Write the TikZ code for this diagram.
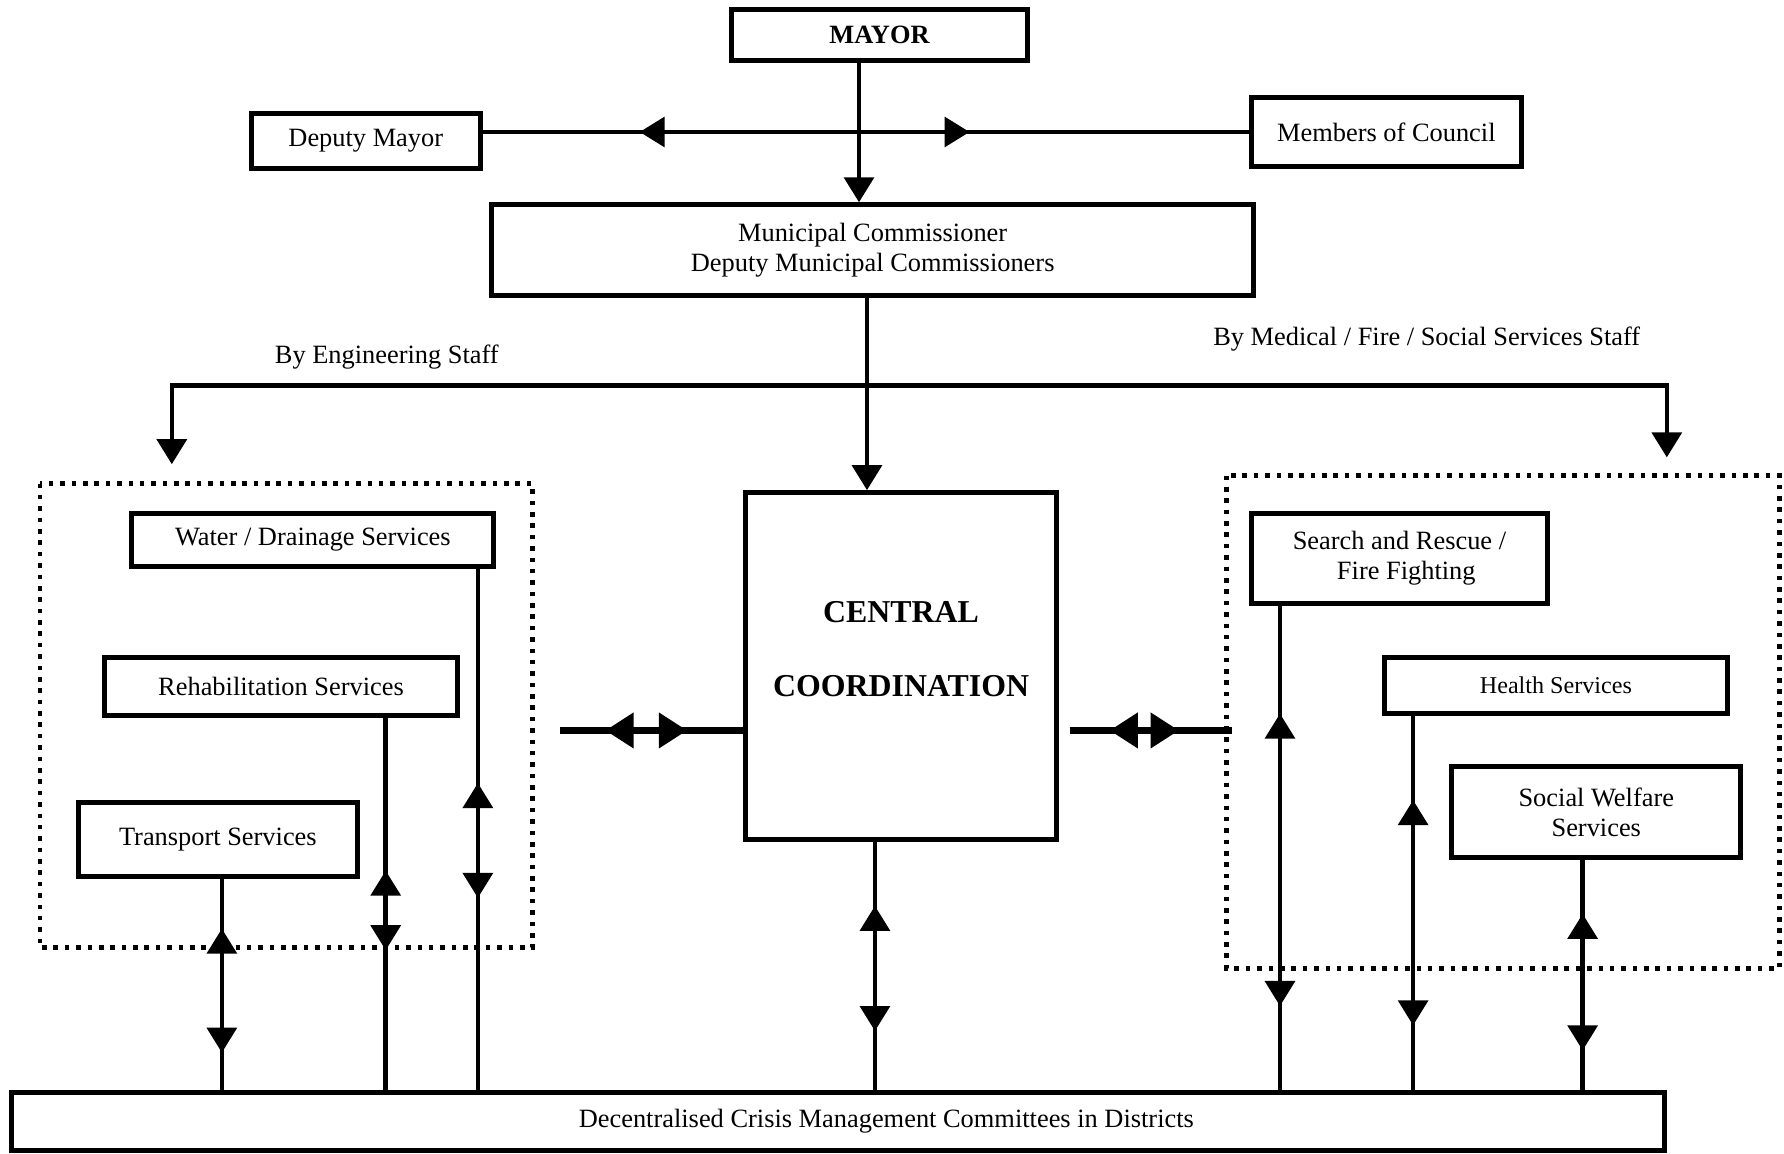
\documentclass[tikz,border=0pt]{standalone}
\usepackage{fontspec}
\setmainfont{Liberation Serif}
\usetikzlibrary{arrows.meta,decorations.markings}

\tikzset{
  head/.tip={Triangle[length=11pt,width=13pt]},
  bighead/.tip={Triangle[length=12.5pt,width=15pt]},
  twoheads/.style 2 args={postaction={decorate,decoration={markings,
      mark=at position #1 with {\arrowreversed{head}},
      mark=at position #2 with {\arrow{head}}}}},
  bigheads/.style 2 args={postaction={decorate,decoration={markings,
      mark=at position #1 with {\arrowreversed{bighead}},
      mark=at position #2 with {\arrow{bighead}}}}}
}

\begin{document}
\begin{tikzpicture}[x=0.5pt, y=-0.5pt, font=\fontsize{11.6}{13.5}\selectfont,
    unit/.style={draw, line width=2.2pt, align=center, inner sep=0pt},
    lnk/.style={line width=2pt},
    thicklnk/.style={line width=3.3pt},
    frame/.style={line width=2pt, dash pattern=on 2pt off 3pt}]
    \useasboundingbox (0,0) rectangle (1568,1014);

    \node[unit, minimum width=130pt, minimum height=22.5pt, font=\fontsize{11.6}{13.5}\selectfont\bfseries] (mayor) at (773,30.5) {MAYOR};
    \node[unit, minimum width=100.5pt, minimum height=24pt] (deputy) at (321.5,124) {Deputy Mayor};
    \node[unit, minimum width=118.5pt, minimum height=30pt] (council) at (1218.5,116) {Members of Council};
    \node[unit, minimum width=335pt, minimum height=40pt] (mc) at (767,220) {Municipal Commissioner\\Deputy Municipal Commissioners};

    \node[unit, minimum width=137pt, minimum height=152.5pt] (central) at (792,585.5) {};
    \node[font=\fontsize{14}{32.5}\selectfont\bfseries, align=center] (centraltext) at (792,570.5) {CENTRAL\\COORDINATION};

    \node[unit, minimum width=159pt, minimum height=23.5pt] (water) at (275,474.5) {Water / Drainage Services};
    \node[unit, minimum width=155pt, minimum height=25.5pt] (rehab) at (247,603.5) {Rehabilitation Services};
    \node[unit, minimum width=122.5pt, minimum height=32.5pt] (transport) at (191.5,737.5) {Transport Services};

    \node[unit, minimum width=130pt, minimum height=39.5pt] (search) at (1230,490.5) {Search and Rescue /\\\hspace*{6pt}Fire Fighting};
    \node[unit, minimum width=150.5pt, minimum height=24.5pt, font=\fontsize{10.6}{12.5}\selectfont] (health) at (1367.5,602.5) {Health Services};
    \node[unit, minimum width=127pt, minimum height=40pt] (social) at (1403,714) {Social Welfare\\Services};

    \node[unit, minimum width=726.5pt, minimum height=25.5pt] (dcmc) at (736.5,985.5) {};
    \node (dcmctext) at (779,985.5) {Decentralised Crisis Management Committees in Districts};

    \node (englabel) at (340,314) {By Engineering Staff};
    \node (medlabel) at (1254,298) {By Medical / Fire / Social Services Staff};

    \draw[frame] (35,425) rectangle (468,833);
    \draw[frame] (1078,418) rectangle (1564,851);

    \draw[lnk, -{head}] ([xshift=-9pt]mayor.south) -- ([xshift=-9pt]mayor.south |- mc.north);
    \draw[lnk, twoheads={69pt}{214pt}] (deputy.east |- council.west) -- (council.west);

    \coordinate (split) at (762,339);
    \coordinate (engdrop) at (151,408);
    \coordinate (meddrop) at (1465,402);
    \draw[lnk, -{head}] (mc.south -| split) -- (central.north -| split);
    \draw[lnk, {head}-{head}] (engdrop) -- (engdrop |- split) -- (meddrop |- split) -- (meddrop);

    \coordinate (leftlink) at (492,642);
    \coordinate (rightlink) at (1083,642);
    \draw[thicklnk, bigheads={20pt}{56pt}] (leftlink) -- (leftlink -| central.west);
    \draw[thicklnk, bigheads={17.5pt}{48pt}] ([xshift=4.5pt]rightlink -| central.east) -- (rightlink);

    \draw[lnk, twoheads={22pt}{76.5pt}] ([xshift=1.75pt]transport.south) -- ([xshift=1.75pt]transport.south |- dcmc.north);
    \draw[lnk, twoheads={67pt}{102pt}] ([xshift=46pt]rehab.south) -- ([xshift=46pt]rehab.south |- dcmc.north);
    \draw[lnk, twoheads={94pt}{144.5pt}] ([xshift=72.5pt]water.south) -- ([xshift=72.5pt]water.south |- dcmc.north);
    \draw[lnk, twoheads={28pt}{83pt}] ([xshift=-11.5pt]central.south) -- ([xshift=-11.5pt]central.south |- dcmc.north);
    \draw[lnk, twoheads={47.5pt}{176pt}] ([xshift=-52.5pt]search.south) -- ([xshift=-52.5pt]search.south |- dcmc.north);
    \draw[lnk, twoheads={37pt}{136pt}] ([xshift=-62.75pt]health.south) -- ([xshift=-62.75pt]health.south |- dcmc.north);
    \draw[lnk, twoheads={23.5pt}{83.5pt}] ([xshift=-6pt]social.south) -- ([xshift=-6pt]social.south |- dcmc.north);
\end{tikzpicture}
\end{document}
